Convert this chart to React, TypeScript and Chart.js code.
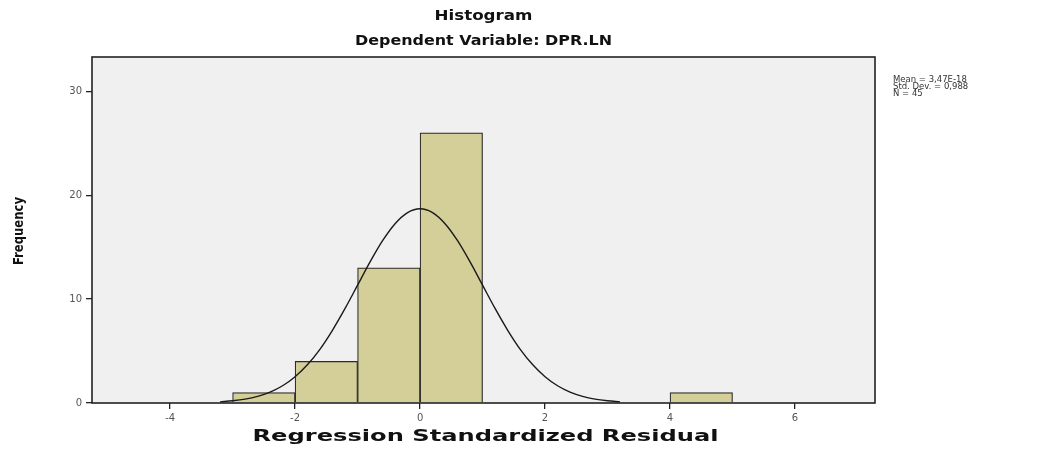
import React, { useEffect, useRef } from "react";
import { Chart, registerables } from "chart.js";

Chart.register(...registerables);

const X_TICKS = [-4, -2, 0, 2, 4, 6];
const Y_TICKS = [0, 10, 20, 30];
const BIN_CENTERS = [-2.5, -1.5, -0.5, 0.5, 4.5];
const BIN_COUNTS = [1, 4, 13, 26, 1];
const CURVE_X = [-3.2, -3.0, -2.8, -2.6, -2.4, -2.2, -2.0, -1.8, -1.6, -1.4, -1.2, -1.0, -0.8, -0.6, -0.4, -0.2, 0, 0.2, 0.4, 0.6, 0.8, 1.0, 1.2, 1.4, 1.6, 1.8, 2.0, 2.2, 2.4, 2.6, 2.8, 3.0, 3.2];
const CURVE_Y = [0.11, 0.21, 0.37, 0.64, 1.05, 1.66, 2.53, 3.7, 5.19, 7.02, 9.1, 11.34, 13.58, 15.62, 17.26, 18.33, 18.7, 18.33, 17.26, 15.62, 13.58, 11.34, 9.1, 7.02, 5.19, 3.7, 2.53, 1.66, 1.05, 0.64, 0.37, 0.21, 0.11];
const TITLE = "Histogram";
const SUBTITLE = "Dependent Variable: DPR.LN";
const X_TITLE = "Regression Standardized Residual";
const Y_TITLE = "Frequency";
const STATS_LINES = ["Mean = 3,47E-18", "Std. Dev. = 0,988", "N = 45"];

function drawStretched(ctx: CanvasRenderingContext2D, text: string, cx: number, cy: number, font: string, targetWidth: number, rotate = 0) {
  ctx.save();
  ctx.font = font;
  const w = ctx.measureText(text).width;
  const sx = targetWidth / w;
  ctx.translate(cx, cy);
  if (rotate) ctx.rotate(rotate);
  ctx.scale(sx, 1);
  ctx.textAlign = "center";
  ctx.textBaseline = "middle";
  ctx.fillStyle = "#111";
  ctx.fillText(text, 0, 0);
  ctx.restore();
}

const framePlugin = {
  id: "spssFrame",
  beforeDraw(chart: any) {
    const { ctx, chartArea: a } = chart;
    ctx.save();
    ctx.fillStyle = "#ffffff";
    ctx.fillRect(0, 0, chart.width, chart.height);
    ctx.fillStyle = "#f0f0f0";
    ctx.fillRect(a.left, a.top, a.right - a.left, a.bottom - a.top);
    ctx.restore();
  },
  afterDraw(chart: any) {
    const { ctx, chartArea: a } = chart;
    ctx.save();
    ctx.strokeStyle = "#222";
    ctx.lineWidth = 1.6;
    ctx.strokeRect(a.left, a.top, a.right - a.left, a.bottom - a.top);
    ctx.restore();
    const cx = (a.left + a.right) / 2;
    drawStretched(ctx, TITLE, cx, 16, "bold 14px 'DejaVu Sans'", 98);
    drawStretched(ctx, SUBTITLE, cx, 41, "bold 14px 'DejaVu Sans'", 257);
    drawStretched(ctx, X_TITLE, cx + 2, 437, "bold 15px 'DejaVu Sans'", 466);
    drawStretched(ctx, Y_TITLE, 19, 231, "bold 14px 'DejaVu Sans Condensed'", 68, -Math.PI / 2);
    ctx.save();
    ctx.font = "8.5px 'DejaVu Sans'";
    ctx.fillStyle = "#333";
    ctx.textAlign = "left";
    ctx.textBaseline = "middle";
    STATS_LINES.forEach((t, i) => ctx.fillText(t, a.right + 18, 80 + i * 7));
    ctx.restore();
  },
};

export default function App() {
  const ref = useRef<HTMLCanvasElement | null>(null);
  useEffect(() => {
    if (!ref.current) return;
    const tickFont = { size: 10, family: "'DejaVu Sans'" };
    const chart = new Chart(ref.current, {
      type: "bar",
      data: {
        datasets: [
          {
            type: "line",
            data: CURVE_X.map((x, i) => ({ x, y: CURVE_Y[i] })),
            borderColor: "#1a1a1a",
            borderWidth: 1.4,
            pointRadius: 0,
            cubicInterpolationMode: "monotone",
            order: 0,
          } as any,
          {
            type: "bar",
            data: BIN_CENTERS.map((x, i) => ({ x, y: BIN_COUNTS[i] })),
            backgroundColor: "#d4cf99",
            borderColor: "#2a2a2a",
            borderWidth: 1.2,
            borderSkipped: "start",
            barPercentage: 1,
            categoryPercentage: 1,
            order: 1,
          } as any,
        ],
      },
      options: {
        responsive: false,
        animation: false,
        devicePixelRatio: 1,
        layout: { padding: { top: 57, right: 179, left: 0, bottom: 0 } },
        plugins: { legend: { display: false }, tooltip: { enabled: false }, title: { display: false } },
        scales: {
          x: {
            type: "linear",
            offset: false,
            min: -5.25,
            max: 7.28,
            afterBuildTicks: (s: any) => { s.ticks = X_TICKS.map((v) => ({ value: v })); },
            afterFit: (s: any) => { s.height = 47; },
            grid: { offset: false, drawOnChartArea: false, drawTicks: true, tickLength: 6, color: "#222", lineWidth: 1.3 },
            border: { display: false },
            ticks: { font: tickFont, color: "#555", padding: 3, maxRotation: 0, autoSkip: false },
          },
          y: {
            type: "linear",
            min: 0,
            max: 33.3,
            afterBuildTicks: (s: any) => { s.ticks = Y_TICKS.map((v) => ({ value: v })); },
            afterFit: (s: any) => { s.width = 92; },
            grid: { drawOnChartArea: false, drawTicks: true, tickLength: 6, color: "#222", lineWidth: 1.3 },
            border: { display: false },
            ticks: { font: tickFont, color: "#555", padding: 4 },
          },
        },
      } as any,
      plugins: [framePlugin],
    });
    return () => chart.destroy();
  }, []);
  return (
    <div style={{ position: "absolute", left: 0, top: 0, width: 1054, height: 450, background: "#fff" }}>
      <canvas ref={ref} width={1054} height={450} style={{ display: "block" }} />
    </div>
  );
}
